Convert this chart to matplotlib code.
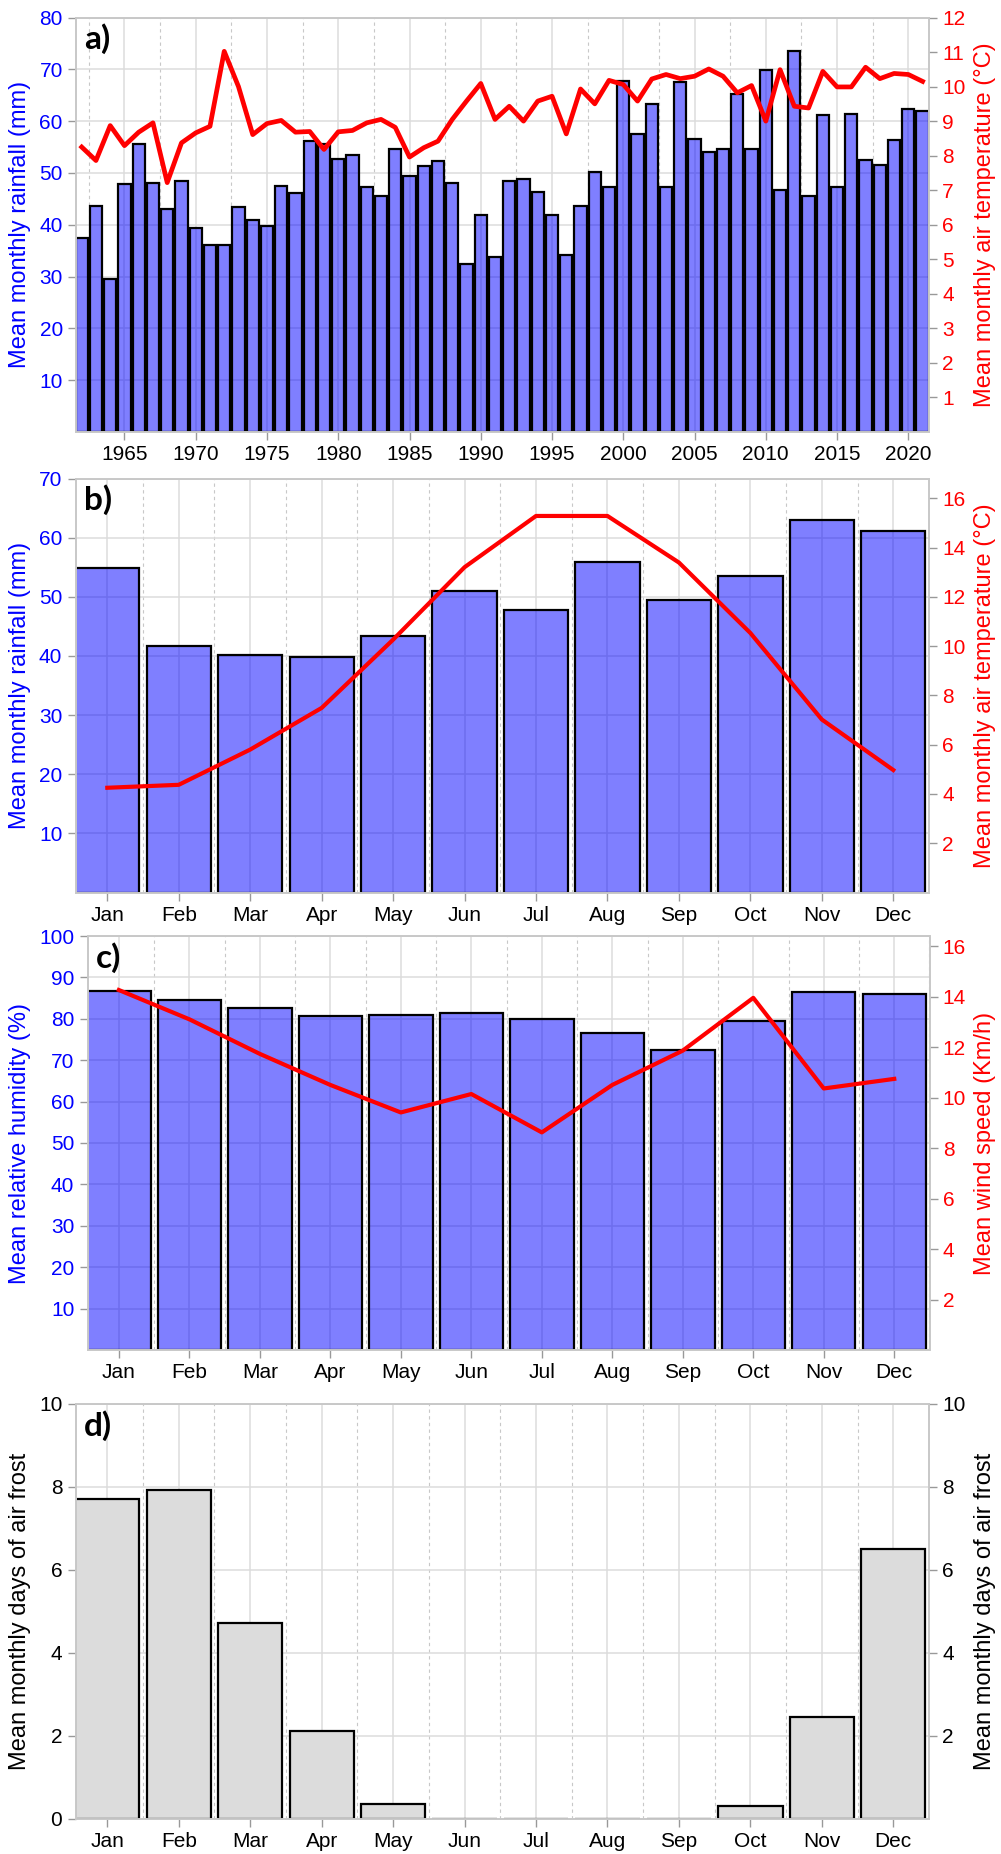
import matplotlib
matplotlib.use("Agg")
import matplotlib.pyplot as plt
import numpy as np

plt.rcParams['font.family'] = ['Liberation Sans', 'DejaVu Sans']

# ---- data ----
years = list(range(1962, 2022))
rain_year = [37.5, 43.7, 29.5, 47.9, 55.5, 48.1, 43.1, 48.4, 39.4, 36.1,
             36.1, 43.4, 40.9, 39.8, 47.4, 46.1, 56.1, 55.6, 52.7, 53.5,
             47.2, 45.5, 54.6, 49.5, 51.3, 52.3, 48.0, 32.5, 41.8, 33.7,
             48.4, 48.9, 46.3, 41.8, 34.1, 43.6, 50.1, 47.3, 67.7, 57.5,
             63.4, 47.3, 67.6, 56.5, 54.1, 54.7, 65.2, 54.6, 69.9, 46.8,
             73.5, 45.5, 61.2, 47.3, 61.3, 52.5, 51.5, 56.3, 62.4, 62.0]
temp_year = [8.25, 7.86, 8.87, 8.29, 8.68, 8.95, 7.22, 8.37, 8.66, 8.85,
             11.02, 10.0, 8.61, 8.93, 9.02, 8.68, 8.70, 8.18, 8.69, 8.73,
             8.95, 9.05, 8.82, 7.96, 8.23, 8.42, 9.05, 9.58, 10.09, 9.05,
             9.43, 9.00, 9.58, 9.72, 8.63, 9.93, 9.50, 10.18, 10.06, 9.58,
             10.22, 10.35, 10.23, 10.30, 10.51, 10.30, 9.82, 10.03, 9.00, 10.49,
             9.43, 9.38, 10.44, 9.99, 9.99, 10.56, 10.23, 10.38, 10.35, 10.15]

months = ['Jan', 'Feb', 'Mar', 'Apr', 'May', 'Jun',
          'Jul', 'Aug', 'Sep', 'Oct', 'Nov', 'Dec']
rain_month = [54.9, 41.6, 40.2, 39.9, 43.4, 51.0, 47.8, 55.8, 49.5, 53.5, 62.9, 61.2]
temp_month = [4.25, 4.37, 5.8, 7.49, 10.26, 13.2, 15.28, 15.28, 13.39, 10.53, 7.02, 4.97]
humidity = [86.8, 84.5, 82.7, 80.6, 81.0, 81.4, 79.9, 76.5, 72.4, 79.4, 86.4, 86.0]
wind = [14.26, 13.1, 11.73, 10.5, 9.41, 10.14, 8.62, 10.5, 11.86, 13.95, 10.36, 10.74]
frost = [7.71, 7.91, 4.70, 2.10, 0.36, 0, 0, 0, 0, 0.30, 2.45, 6.50]

W, H = 1001, 1854
fig = plt.figure(figsize=(W / 100, H / 100), dpi=100)

BLUE = '#0000ff'
RED = '#ff0000'
BAR = (0, 0, 1, 0.5)
SPINE = '#c8c8c8'
GRID = '#dcdcdc'
FS = 15
LFS = 17


def make_axes(l, r, t, b):
    return fig.add_axes([l / W, 1 - b / H, (r - l) / W, (b - t) / H])


def style(ax, ax2, lcol, rcol):
    ax.set_axisbelow(True)
    for a in (ax, ax2):
        for sp in a.spines.values():
            sp.set_color(SPINE)
            sp.set_linewidth(1.2)
    ax.tick_params(axis='x', which='major', colors='#999999', labelcolor='black',
                   labelsize=FS, length=6, width=1)
    ax.tick_params(axis='x', which='minor', length=0)
    ax.tick_params(axis='y', colors='#999999', labelcolor=lcol, labelsize=FS,
                   length=6, width=1)
    ax2.tick_params(axis='y', colors='#999999', labelcolor=rcol, labelsize=FS,
                    length=6, width=1)
    ax.grid(which='major', axis='both', color=GRID, lw=1.1)
    ax.grid(which='minor', axis='x', color='#c8c8c8', lw=0.8, ls=(0, (3, 3)))


def panel_label(ax, s):
    ax.text(0.01, 0.985, s, transform=ax.transAxes, ha='left', va='top',
            fontsize=24, fontweight='bold', family=['Lato', 'DejaVu Sans'])


mx = np.arange(1, 13)

# ---- a) ----
ax = make_axes(76, 929, 17.5, 432)
ax.bar(years, rain_year, width=0.86, color=BAR, edgecolor='black', lw=1.6)
ax.set_xlim(1961.6, 2021.45)
ax.set_ylim(0, 80)
ax.set_yticks(range(10, 81, 10))
ax.set_xticks(range(1965, 2021, 5))
ax.set_xticks(np.arange(1962.5, 2021, 5), minor=True)
ax.set_ylabel('Mean monthly rainfall (mm)', color=BLUE, fontsize=LFS, labelpad=6)
ax2 = ax.twinx()
ax2.plot(years, temp_year, color=RED, lw=3.4)
ax2.set_ylim(0, 12)
ax2.set_yticks(range(1, 13))
ax2.set_ylabel('Mean monthly air temperature (°C)', color=RED, fontsize=LFS, labelpad=6)
style(ax, ax2, BLUE, RED)
panel_label(ax, 'a)')

# ---- b) ----
ax = make_axes(75.5, 929, 478.5, 892.5)
ax.bar(mx, rain_month, width=0.9, color=BAR, edgecolor='black', lw=1.6)
ax.set_xlim(0.555, 12.445)
ax.set_ylim(0, 70)
ax.set_yticks(range(10, 71, 10))
ax.set_xticks(mx)
ax.set_xticklabels(months)
ax.set_xticks(mx + 0.5, minor=True)
ax.set_ylabel('Mean monthly rainfall (mm)', color=BLUE, fontsize=LFS, labelpad=6)
ax2 = ax.twinx()
ax2.plot(mx, temp_month, color=RED, lw=3)
ax2.set_ylim(0, 16.8)
ax2.set_yticks(range(2, 17, 2))
ax2.set_ylabel('Mean monthly air temperature (°C)', color=RED, fontsize=LFS, labelpad=6)
style(ax, ax2, BLUE, RED)
panel_label(ax, 'b)')

# ---- c) ----
ax = make_axes(87.5, 929.5, 936, 1350)
ax.bar(mx, humidity, width=0.9, color=BAR, edgecolor='black', lw=1.6)
ax.set_xlim(0.555, 12.445)
ax.set_ylim(0, 100)
ax.set_yticks(range(10, 101, 10))
ax.set_xticks(mx)
ax.set_xticklabels(months)
ax.set_xticks(mx + 0.5, minor=True)
ax.set_ylabel('Mean relative humidity (%)', color=BLUE, fontsize=LFS, labelpad=6)
ax2 = ax.twinx()
ax2.plot(mx, wind, color=RED, lw=3)
ax2.set_ylim(0, 16.4)
ax2.set_yticks(range(2, 17, 2))
ax2.set_ylabel('Mean wind speed (Km/h)', color=RED, fontsize=LFS, labelpad=6)
style(ax, ax2, BLUE, RED)
panel_label(ax, 'c)')

# ---- d) ----
ax = make_axes(75.5, 929, 1403.5, 1818.5)
ax.bar(mx, frost, width=0.9, color='#dcdcdc', edgecolor='black', lw=1.6)
ax.set_xlim(0.555, 12.445)
ax.set_ylim(0, 10)
ax.set_yticks(range(0, 11, 2))
ax.set_xticks(mx)
ax.set_xticklabels(months)
ax.set_xticks(mx + 0.5, minor=True)
ax.set_ylabel('Mean monthly days of air frost', color='black', fontsize=LFS, labelpad=6)
ax2 = ax.twinx()
ax2.set_ylim(0, 10)
ax2.set_yticks(range(2, 11, 2))
ax2.set_ylabel('Mean monthly days of air frost', color='black', fontsize=LFS, labelpad=6)
style(ax, ax2, 'black', 'black')
panel_label(ax, 'd)')

fig.savefig('out.png', dpi=100)
